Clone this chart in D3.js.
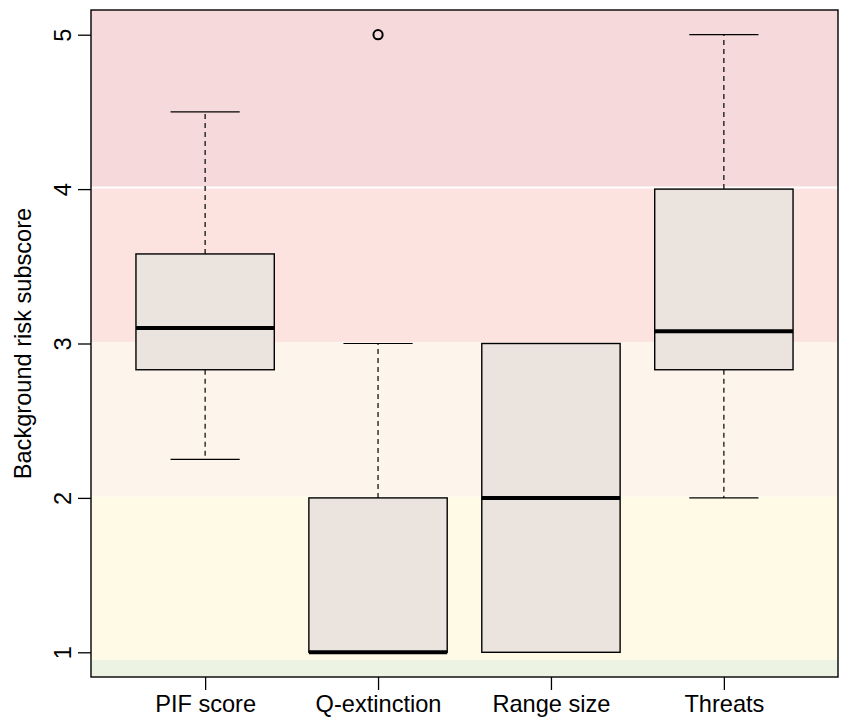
<!DOCTYPE html>
<html>
<head>
<meta charset="utf-8">
<script src="https://cdn.jsdelivr.net/npm/d3@7"></script>
<style>
  html, body { margin: 0; padding: 0; background: #ffffff; }
  svg { display: block; }
  svg text { font-family: "Liberation Sans", Arial, Helvetica, sans-serif; }
</style>
</head>
<body>
<svg id="chart" width="844" height="717"></svg>
<script>
// Risk subscore components
const categories = ["PIF score", "Q-extinction", "Range size", "Threats"];
const lowerWhisker = [2.25, 1, 1, 2];
const lowerQuartile = [2.83, 1, 1, 2.83];
const medians = [3.1, 1, 2, 3.08];
const upperQuartile = [3.58, 2, 3, 4];
const upperWhisker = [4.5, 3, 3, 5];
const outliers = [[], [5], [], []];

const yTicks = [1, 2, 3, 4, 5];

// Background risk bands, bottom to top
const bandEdges = [0.84, 0.95, 2.01, 3.01, 4.01, 5.16];
const bandColors = ["#edf3e3", "#fefae6", "#fdf5eb", "#fce3e0", "#f5d9db"];

const FONT = 23.6;
const svg = d3.select("#chart");
const plot = { left: 91, right: 838, top: 10, bottom: 677 };

const x = d3.scaleLinear().domain([0.34, 4.66]).range([plot.left, plot.right]);
const y = d3.scaleLinear().domain([0.84, 5.16]).range([plot.bottom, plot.top]);

// Bands
const bands = d3.range(bandColors.length).map(i => ({ lo: bandEdges[i], hi: bandEdges[i + 1], c: bandColors[i] }));
svg.append("g").selectAll("rect").data(bands).join("rect")
  .attr("x", plot.left).attr("width", plot.right - plot.left)
  .attr("y", d => y(d.hi)).attr("height", d => y(d.lo) - y(d.hi))
  .attr("fill", d => d.c);

// thin white separator under the top band
svg.append("line")
  .attr("x1", plot.left).attr("x2", plot.right)
  .attr("y1", y(bandEdges[4])).attr("y2", y(bandEdges[4]))
  .attr("stroke", "#ffffff").attr("stroke-width", 2);

// Boxes
const boxW = x(0.8) - x(0);
const stats = categories.map((c, i) => ({
  c, i: i + 1,
  lw: lowerWhisker[i], q1: lowerQuartile[i], med: medians[i],
  q3: upperQuartile[i], uw: upperWhisker[i], out: outliers[i]
}));

const g = svg.append("g");
stats.forEach(s => {
  const cx = x(s.i);
  // whiskers
  g.append("line").attr("x1", cx).attr("x2", cx).attr("y1", y(s.q3)).attr("y2", y(s.uw))
    .attr("stroke", "#000").attr("stroke-width", 1.2).attr("stroke-dasharray", "5,4");
  g.append("line").attr("x1", cx).attr("x2", cx).attr("y1", y(s.q1)).attr("y2", y(s.lw))
    .attr("stroke", "#000").attr("stroke-width", 1.2).attr("stroke-dasharray", "5,4");
  // staples
  [s.lw, s.uw].forEach(v => {
    g.append("line").attr("x1", cx - boxW / 4).attr("x2", cx + boxW / 4)
      .attr("y1", y(v)).attr("y2", y(v)).attr("stroke", "#000").attr("stroke-width", 1.2);
  });
  // box
  g.append("rect").attr("x", cx - boxW / 2).attr("width", boxW)
    .attr("y", y(s.q3)).attr("height", y(s.q1) - y(s.q3))
    .attr("fill", "#ebe3de").attr("stroke", "#000").attr("stroke-width", 1.4);
  // median
  g.append("line").attr("x1", cx - boxW / 2).attr("x2", cx + boxW / 2)
    .attr("y1", y(s.med)).attr("y2", y(s.med))
    .attr("stroke", "#000").attr("stroke-width", 4);
  // outliers
  s.out.forEach(v => {
    g.append("circle").attr("cx", cx).attr("cy", y(v)).attr("r", 4.6)
      .attr("fill", "none").attr("stroke", "#000").attr("stroke-width", 2);
  });
});

// Frame
svg.append("rect").attr("x", plot.left).attr("y", plot.top)
  .attr("width", plot.right - plot.left).attr("height", plot.bottom - plot.top)
  .attr("fill", "none").attr("stroke", "#000").attr("stroke-width", 1.4);

// Y axis
const yAxis = svg.append("g").attr("transform", `translate(${plot.left},0)`)
  .call(d3.axisLeft(y).tickValues(yTicks).tickSize(13).tickFormat(d3.format("d")));
yAxis.attr("font-family", null).attr("font-size", null);
yAxis.select(".domain").remove();
yAxis.selectAll("line").attr("stroke", "#000").attr("stroke-width", 1.3);
yAxis.selectAll("text")
  .attr("font-size", FONT).attr("fill", "#000")
  .attr("text-anchor", "middle").attr("dy", null)
  .attr("transform", "rotate(-90)")
  .attr("x", 0).attr("y", -20);

// X axis
const xAxis = svg.append("g").attr("transform", `translate(0,${plot.bottom})`)
  .call(d3.axisBottom(x).tickValues([1, 2, 3, 4]).tickSize(13).tickFormat((d, i) => categories[i]));
xAxis.attr("font-family", null).attr("font-size", null);
xAxis.select(".domain").remove();
xAxis.selectAll("line").attr("stroke", "#000").attr("stroke-width", 1.3);
xAxis.selectAll("text").attr("font-size", FONT).attr("fill", "#000").attr("y", 35).attr("dy", null);

// Y title
svg.append("text")
  .attr("transform", `translate(31,${(plot.top + plot.bottom) / 2}) rotate(-90)`)
  .attr("text-anchor", "middle").attr("font-size", FONT).attr("fill", "#000")
  .text("Background risk subscore");
</script>
</body>
</html>
